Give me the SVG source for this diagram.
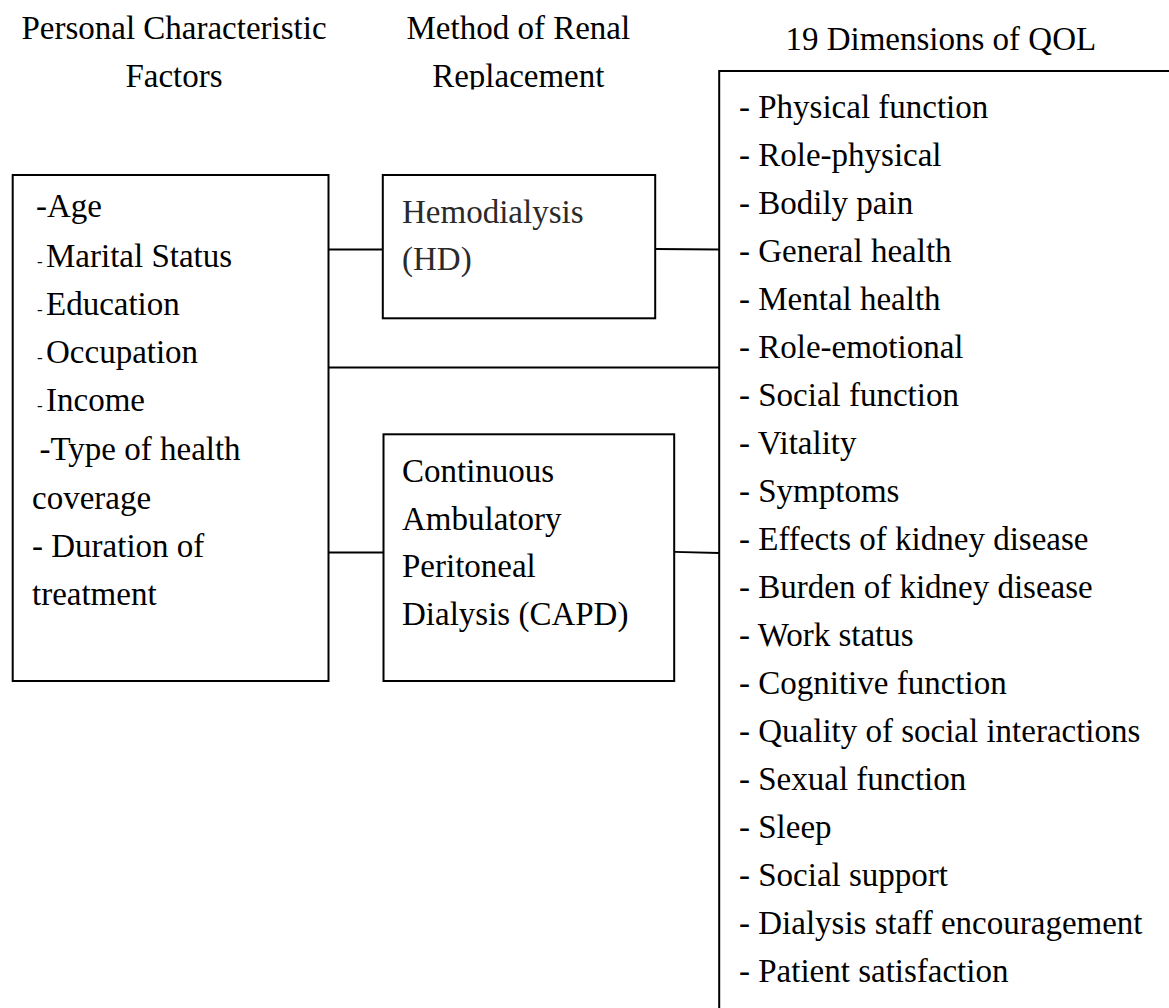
<svg xmlns="http://www.w3.org/2000/svg" width="1169" height="1008" viewBox="0 0 1169 1008">
<style>
  text { font-family: "Liberation Serif", "Times New Roman", serif; font-size: 33px; fill: #000; }
  .title { text-anchor: middle; }
  .box { fill: #fff; stroke: #000; stroke-width: 2; }
  .conn { fill: none; stroke: #000; stroke-width: 1.8; }
  .sm { font-size: 17px; }
  .gray { fill: #2a2a2a; }
</style>
<defs>
  <clipPath id="titleClip"><rect x="380" y="0" width="300" height="89.5"/></clipPath>
</defs>
<rect width="1169" height="1008" fill="#fff"/>

<g id="titles">
  <text class="title" x="174" y="39.3">Personal Characteristic</text>
  <text class="title" x="174" y="87.3">Factors</text>
  <text class="title" x="518.3" y="39.3">Method of Renal</text>
  <text class="title" x="518.3" y="87.3" clip-path="url(#titleClip)">Replacement</text>
  <text class="title" x="940.8" y="50">19 Dimensions of QOL</text>
</g>

<g id="connectors">
  <line class="conn" x1="328.5" y1="249.5" x2="383" y2="249.5"/>
  <line class="conn" x1="655" y1="249" x2="719" y2="249.5"/>
  <line class="conn" x1="328.5" y1="367.5" x2="719" y2="367.5"/>
  <line class="conn" x1="328.5" y1="552.5" x2="383.5" y2="552.5"/>
  <line class="conn" x1="674" y1="551.8" x2="719" y2="553"/>
</g>

<g id="personal-factors">
  <rect class="box" x="12.7" y="175" width="315.8" height="506"/>
  <text x="36" y="217.3">-Age</text>
  <text x="37" y="266.7"><tspan class="sm">-</tspan><tspan x="46">Marital Status</tspan></text>
  <text x="37" y="315"><tspan class="sm">-</tspan><tspan x="46">Education</tspan></text>
  <text x="37" y="363.3"><tspan class="sm">-</tspan><tspan x="46">Occupation</tspan></text>
  <text x="37" y="410.7"><tspan class="sm">-</tspan><tspan x="46">Income</tspan></text>
  <text x="39.5" y="460">-Type of health</text>
  <text x="32" y="508.5">coverage</text>
  <text x="32" y="557.3">- Duration of</text>
  <text x="32" y="605">treatment</text>
</g>

<g id="hemodialysis">
  <rect class="box" x="382.8" y="175" width="272.4" height="143.3"/>
  <text class="gray" x="402" y="222.7">Hemodialysis</text>
  <text class="gray" x="402" y="270">(HD)</text>
</g>

<g id="capd">
  <rect class="box" x="383.5" y="434.3" width="290.7" height="246.7"/>
  <text x="402" y="481.7">Continuous</text>
  <text x="402" y="530">Ambulatory</text>
  <text x="402" y="577.3">Peritoneal</text>
  <text x="402" y="625">Dialysis (CAPD)</text>
</g>

<g id="qol-dimensions">
  <path class="conn" d="M719.2 1008 V71 H1169" style="stroke-width:2"/>
  <text x="739" y="118">- Physical function</text>
  <text x="739" y="166">- Role-physical</text>
  <text x="739" y="214">- Bodily pain</text>
  <text x="739" y="262">- General health</text>
  <text x="739" y="310">- Mental health</text>
  <text x="739" y="358">- Role-emotional</text>
  <text x="739" y="406">- Social function</text>
  <text x="739" y="454">- Vitality</text>
  <text x="739" y="502">- Symptoms</text>
  <text x="739" y="550">- Effects of kidney disease</text>
  <text x="739" y="598">- Burden of kidney disease</text>
  <text x="739" y="646">- Work status</text>
  <text x="739" y="694">- Cognitive function</text>
  <text x="739" y="742">- Quality of social interactions</text>
  <text x="739" y="790">- Sexual function</text>
  <text x="739" y="838">- Sleep</text>
  <text x="739" y="886">- Social support</text>
  <text x="739" y="934">- Dialysis staff encouragement</text>
  <text x="739" y="982">- Patient satisfaction</text>
</g>
</svg>
